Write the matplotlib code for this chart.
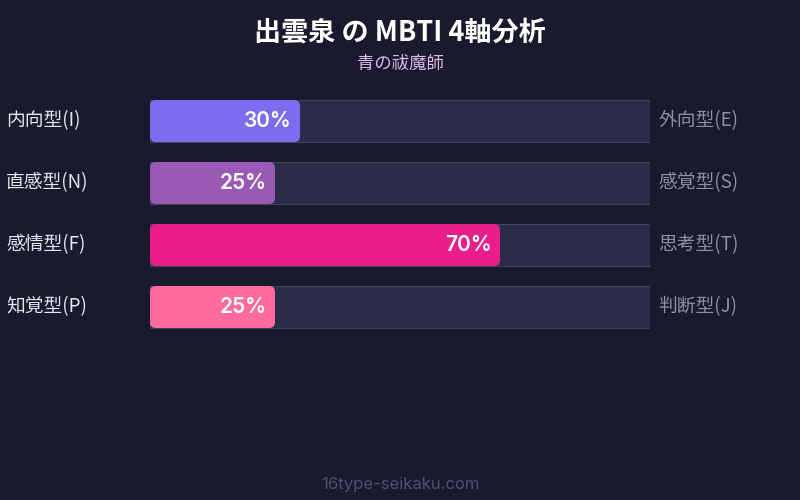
import matplotlib
matplotlib.use("Agg")
import matplotlib.pyplot as plt
from matplotlib.patches import FancyBboxPatch, Rectangle

plt.rcParams['font.family'] = ['Noto Sans CJK JP', 'DejaVu Sans']

left_labels = ["内向型(I)", "直感型(N)", "感情型(F)", "知覚型(P)"]
right_labels = ["外向型(E)", "感覚型(S)", "思考型(T)", "判断型(J)"]
values = [30, 25, 70, 25]
colors = ["#7b6cf0", "#9b59b6", "#e91e8c", "#ff6b9d"]
title = "出雲泉 の MBTI 4軸分析"
subtitle = "青の祓魔師"
footer = "16type-seikaku.com"

BG = "#1a1a2e"
fig = plt.figure(figsize=(8, 5), dpi=100, facecolor=BG)

W, H = 800, 500
ax_l, ax_r = 150, 650
ax_top, ax_bot = 90, 338
ax = fig.add_axes([ax_l / W, (H - ax_bot) / H, (ax_r - ax_l) / W, (ax_bot - ax_top) / H])
ax.set_facecolor(BG)
ax.set_xlim(0, 100)
ax.set_ylim(len(values) - 0.5, -0.5)
ax.axis('off')

px_x = (ax_r - ax_l) / 100.0  # px per x-unit
px_y = 62.0                   # px per y-unit
bh = 42 / px_y
r = 6 / px_x

for i, (v, c) in enumerate(zip(values, colors)):
    ax.add_patch(Rectangle((0, i - bh / 2), 100, bh, facecolor="#2d2b4a",
                           edgecolor="#44425f", linewidth=0.8, zorder=1))
    ax.add_patch(FancyBboxPatch((0, i - bh / 2), v, bh,
                                boxstyle=f"round,pad=0,rounding_size={r}",
                                mutation_aspect=px_x / px_y,
                                facecolor=c, edgecolor="none", zorder=2))
    ax.text(v - 8 / px_x, i, f"{v}%", ha='right', va='center', color='white',
            fontsize=15, fontweight='semibold', zorder=3,
            family=['Inter', 'DejaVu Sans'])
    ax.text(-144 / px_x, i, left_labels[i], ha='left', va='center',
            color='#e6e6f0', fontsize=13.5, zorder=3)
    ax.text(100 + 8 / px_x, i, right_labels[i], ha='left', va='center',
            color='#8e8ea6', fontsize=13.5, zorder=3)

fig.text(0.5, 1 - 33 / H, title, ha='center', va='center', color='white',
         fontsize=19.5, fontweight='bold')
fig.text(0.5, 1 - 64 / H, subtitle, ha='center', va='center', color='#dcb8e6',
         fontsize=12.5)
fig.text(0.5, 1 - 484 / H, footer, ha='center', va='center', color='#4e4e6e',
         fontsize=12, family=['Inter', 'DejaVu Sans'])

fig.savefig("out.png", dpi=100, facecolor=BG)
